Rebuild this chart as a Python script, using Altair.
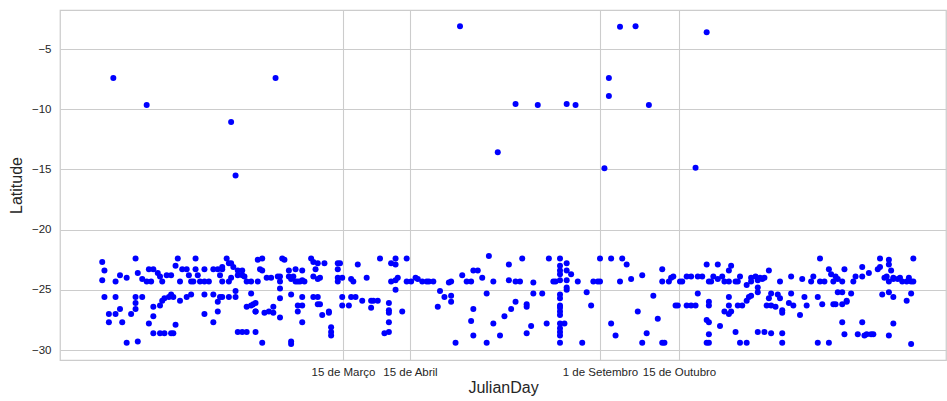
import altair as alt
import pandas as pd

# ---- band points, left part ----
days_a = [2, 3, 2, 8, 10, 13, 17, 18, 20, 22,
          23, 25, 24, 27, 28, 29, 31, 33, 35, 36,
          37, 38, 40, 41, 42, 43, 44, 44, 45, 46,
          48, 48, 50, 52, 54, 55, 56, 56, 58, 59,
          60, 61, 56, 59, 60, 63, 63, 65, 65, 66,
          67, 69, 72, 72, 73]
lats_a = [-22.7, -23.4, -24.2, -24.3, -23.8, -24.0, -22.4, -23.6, -24.1, -24.3,
          -23.3, -23.3, -24.3, -23.6, -23.9, -24.3, -23.8, -23.8, -23.0, -22.4,
          -24.3, -23.3, -23.3, -23.8, -24.3, -24.3, -22.4, -23.3, -23.8, -24.3,
          -23.3, -24.3, -24.3, -23.3, -23.3, -23.8, -23.3, -23.1, -22.4, -22.8,
          -22.8, -23.1, -24.3, -24.3, -24.0, -23.4, -23.8, -23.8, -23.4, -23.9,
          -24.3, -24.3, -22.5, -24.3, -23.3]

days_b = [3, 8, 5, 8, 10, 5, 11, 13, 18, 15,
          17, 17, 17, 20, 23, 25, 25, 25, 28, 30,
          33, 34, 28, 29, 30, 32, 33, 34, 35, 37,
          40, 42, 48, 48, 52, 52, 54, 54, 55, 56,
          59, 62, 62, 63, 65, 67, 71, 67, 69, 70,
          71, 69]
lats_b = [-25.6, -25.6, -27.0, -27.0, -26.6, -27.7, -27.7, -29.4, -29.3, -27.0,
          -26.6, -26.1, -25.6, -25.6, -27.8, -27.2, -26.4, -28.6, -28.6, -28.6,
          -28.6, -28.6, -26.3, -25.9, -25.7, -25.6, -25.4, -25.6, -27.9, -25.9,
          -25.6, -25.4, -25.4, -27.0, -27.7, -25.4, -26.0, -26.8, -25.6, -25.6,
          -25.6, -25.1, -25.6, -28.5, -28.5, -28.5, -28.5, -26.4, -26.3, -26.2,
          -26.8, -25.3]

days_c = [74, 74, 76, 78, 81, 82, 82, 82, 82, 83,
          84, 86, 86, 87, 88, 89, 90, 91, 92, 93,
          89, 92, 96, 97, 99, 98, 97, 99, 100, 102,
          71, 71, 75, 77, 79, 79, 82, 87, 90, 90,
          92, 92, 92, 97, 99, 99, 100, 101, 104, 104,
          105, 105, 105, 74, 87, 87, 108, 108, 109, 108,
          108, 110, 110, 113, 110, 114, 116, 115, 114, 117,
          121, 119, 123, 123, 124, 126, 127, 132, 134, 134,
          139, 131, 131, 131, 131, 129, 131, 132, 134, 135,
          134, 137, 139, 141, 143, 144, 146]
lats_c = [-22.4, -23.4, -24.0, -24.0, -23.9, -23.9, -24.3, -24.9, -25.7, -22.4,
          -22.5, -23.4, -23.9, -24.1, -23.9, -24.3, -24.3, -24.3, -24.2, -24.3,
          -23.3, -23.4, -22.4, -22.7, -22.8, -23.3, -23.9, -24.1, -24.0, -22.8,
          -26.1, -26.8, -26.9, -26.8, -26.9, -26.4, -27.3, -25.4, -26.8, -26.3,
          -26.3, -25.6, -27.7, -25.6, -25.6, -26.2, -26.2, -27.1, -26.8, -26.9,
          -28.1, -28.5, -28.8, -29.4, -29.3, -29.5, -22.8, -23.3, -22.8, -24.0,
          -24.3, -24.0, -26.3, -26.3, -25.6, -25.6, -25.6, -24.3, -24.1, -22.9,
          -24.0, -25.9, -25.9, -26.5, -25.9, -25.9, -22.4, -22.8, -22.4, -22.9,
          -22.4, -26.1, -26.7, -26.9, -27.7, -28.6, -28.5, -24.3, -24.2, -24.0,
          -25.0, -26.8, -24.3, -24.3, -24.0, -24.1, -24.3]

days_d = [148, 149, 151, 154, 156, 159, 159, 153, 158, 159,
          164, 166, 168, 169, 171, 173, 176, 178, 175, 168,
          169, 169, 161, 175, 178, 181, 183, 185, 185, 186,
          188, 188, 190, 191, 193, 193, 193, 195, 196, 196,
          200, 202, 203,
          208, 208, 208, 208, 208, 208, 208, 208, 208, 208,
          208, 208, 208, 208, 208, 208,
          205, 206, 210, 211, 211, 213, 211, 211, 211, 216,
          220, 222, 218]
lats_d = [-24.3, -24.3, -24.3, -25.1, -25.6, -25.5, -26.0, -26.4, -24.4, -24.3,
          -23.8, -24.3, -24.3, -23.4, -23.4, -24.0, -22.2, -24.3, -25.3, -27.6,
          -26.6, -28.8, -29.4, -29.4, -27.8, -28.8, -27.2, -22.9, -24.2, -26.6,
          -26.0, -24.3, -24.3, -22.4, -26.2, -26.4, -28.6, -28.0, -25.3, -24.4,
          -25.3, -27.8, -22.4,
          -22.4, -23.0, -23.4, -23.7, -24.2, -25.4, -25.7, -26.3, -26.5, -26.8,
          -27.1, -27.8, -28.2, -28.5, -28.8, -29.4,
          -24.3, -24.3, -27.8, -22.8, -23.4, -23.7, -24.2, -24.8, -25.0, -24.3,
          -25.2, -26.3, -29.4]

days_e = [226, 231, 236, 238, 223, 225, 226, 235, 240, 245,
          231, 233, 243, 247, 245, 250, 252, 254, 254, 257,
          258, 259, 254, 255, 260, 261, 262, 263, 265, 267,
          265, 267, 269, 270, 270, 272, 274, 275, 275, 275,
          277, 279, 276, 279, 281, 282, 284, 284, 285, 274,
          275, 274, 275, 275, 280, 284, 284, 282, 284, 285,
          287, 288, 289, 292, 294, 287, 289, 292, 288, 290,
          292, 293, 294]
lats_e = [-22.4, -22.4, -22.4, -22.9, -24.3, -24.3, -24.3, -24.3, -24.1, -23.8,
          -27.8, -28.8, -26.8, -28.6, -29.4, -25.5, -27.4, -23.3, -24.3, -24.3,
          -24.0, -23.9, -29.4, -29.4, -26.3, -26.3, -24.3, -24.3, -23.9, -23.9,
          -26.3, -26.3, -26.3, -25.3, -23.9, -23.9, -22.9, -24.3, -26.0, -26.3,
          -23.9, -22.9, -24.3, -24.1, -23.9, -24.3, -24.3, -23.4, -23.0, -27.5,
          -27.7, -29.4, -29.4, -28.7, -28.0, -25.6, -26.3, -26.8, -27.0, -26.8,
          -24.3, -24.3, -23.9, -24.6, -24.3, -28.5, -29.4, -29.4, -26.3, -26.3,
          -25.9, -25.6, -25.5]

days_f = [294, 296, 297, 298, 299, 300, 297, 297, 302, 303,
          302, 301, 303, 305, 306, 307, 307, 308, 308, 311,
          312, 313, 312, 316, 317, 318, 319, 321, 322, 324,
          325, 326, 325, 327, 329, 330, 331, 331, 332, 332,
          333, 333, 335, 335, 335, 337, 337, 336, 339, 340,
          341, 344, 344, 347, 351, 352, 352, 353, 354, 355,
          356, 356, 357, 356, 358, 358, 360, 361, 362, 364,
          365, 366, 367, 367, 366, 364, 356, 358,
          297, 300, 303, 308, 308, 324, 329, 335, 336, 342,
          344, 345, 346, 348, 349, 356, 358, 366]
lats_f = [-24.0, -23.9, -24.2, -24.0, -24.1, -24.0, -24.8, -25.2, -23.4, -25.3,
          -25.7, -26.3, -26.3, -26.4, -25.4, -25.7, -24.3, -26.7, -26.9, -26.1,
          -23.9, -26.3, -25.3, -27.1, -24.1, -25.6, -26.3, -24.3, -23.9, -25.6,
          -24.3, -26.2, -22.4, -24.3, -23.3, -23.7, -24.3, -26.2, -26.2, -23.9,
          -24.1, -25.2, -24.3, -25.2, -26.2, -26.0, -25.9, -23.3, -25.3, -24.3,
          -23.9, -23.9, -23.1, -23.6, -23.3, -23.1, -22.4, -25.4, -24.0, -23.9,
          -22.5, -22.9, -23.4, -24.3, -24.1, -24.0, -24.1, -24.0, -24.3, -24.3,
          -24.0, -24.3, -22.4, -24.3, -25.3, -25.9, -25.2, -25.6,
          -28.5, -28.5, -28.6, -28.6, -29.4, -29.4, -29.4, -27.7, -28.7, -28.7,
          -27.7, -28.8, -28.7, -28.7, -28.7, -28.8, -27.8, -29.5]

# ---- outliers (far north) ----
days_out = [7, 80, 22, 60, 62, 163, 188, 198, 211, 215,
            180, 230, 230, 228, 235, 242, 274, 248, 269]
lats_out = [-7.4, -7.4, -9.65, -11.06, -15.5, -3.1, -9.57, -9.65, -9.57, -9.65,
            -13.58, -7.4, -8.9, -14.9, -3.15, -3.1, -3.6, -9.65, -14.86]

julian = days_a + days_b + days_c + days_d + days_e + days_f + days_out
latitude = lats_a + lats_b + lats_c + lats_d + lats_e + lats_f + lats_out
df = pd.DataFrame({"JulianDay": julian, "Latitude": latitude})

tick_days = [110.35, 140.5, 226, 261.55]
tick_labels = ["15 de Março", "15 de Abril", "1 de Setembro", "15 de Outubro"]
y_ticks = [-30, -25, -20, -15, -10, -5]

label_expr = "''"
for v, t in reversed(list(zip(tick_days, tick_labels))):
    label_expr = f"abs(datum.value - {v}) < 1 ? '{t}' : ({label_expr})"

FONT = "Liberation Sans"
TXT = "#262626"

chart = alt.Chart(df).mark_circle(size=36, color="#0000ff", opacity=1).encode(
    x=alt.X("JulianDay:Q",
            scale=alt.Scale(domain=[-17, 381.7], nice=False, zero=False),
            axis=alt.Axis(values=tick_days, labelExpr=label_expr, title="JulianDay",
                          labelPadding=6, titlePadding=2, labelOverlap=False,
                          labelFlush=False)),
    y=alt.Y("Latitude:Q",
            scale=alt.Scale(domain=[-30.83, -1.76], nice=False, zero=False),
            axis=alt.Axis(values=y_ticks, title="Latitude", labelPadding=9,
                          titlePadding=7)),
).properties(
    width=886, height=350,
    autosize=alt.AutoSizeParams(type="none"),
    padding={"left": 60, "top": 10, "right": 1, "bottom": 41},
).configure_view(
    stroke="#cccccc", strokeWidth=1.25
).configure_axis(
    grid=True, gridColor="#cccccc", gridWidth=1.1, domain=False, ticks=False,
    labelFont=FONT, labelFontSize=11.5, labelColor=TXT,
    titleFont=FONT, titleFontSize=16, titleFontWeight="normal", titleColor=TXT,
)

chart.save("out.html", embed_options={"renderer": "svg", "actions": False})
